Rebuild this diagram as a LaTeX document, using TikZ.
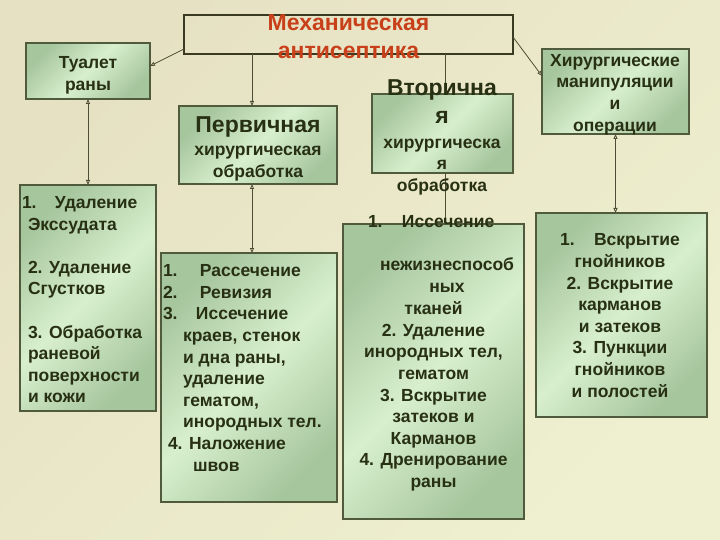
\documentclass[tikz,border=0pt]{standalone}
\usepackage{fontspec}
\setmainfont{Liberation Sans}
\usetikzlibrary{arrows.meta}
\definecolor{bgA}{HTML}{E6E1C3}
\definecolor{bgB}{HTML}{EEF0CF}
\definecolor{gDark}{HTML}{A6C69E}
\definecolor{gLight}{HTML}{D8EFCD}
\definecolor{boxLine}{HTML}{505A3C}
\definecolor{titleLine}{HTML}{3A3A22}
\definecolor{txt}{HTML}{283014}
\definecolor{titleRed}{HTML}{C8401A}
\definecolor{conn}{HTML}{4E4E36}
\newcommand{\bigln}{\fontsize{23}{28}\selectfont}
\begin{document}
\begin{tikzpicture}[x=1pt,y=-1pt,
  gbox/.style={draw=boxLine, line width=1.2pt, top color=gDark, bottom color=gDark, middle color=gLight, shading angle=45, inner sep=0pt, outer sep=0pt},
  tbox/.style={draw=titleLine, line width=1.5pt, inner sep=0pt, outer sep=0pt},
  lbl/.style={text=txt, font=\fontsize{17.5}{21.6}\selectfont\bfseries, inner sep=0pt, outer sep=0pt},
  ttl/.style={text=titleRed, font=\fontsize{23}{28}\selectfont\bfseries, inner sep=0pt, align=center},
  link/.style={draw=conn, line width=0.8pt},
  arr/.style={link, -{Triangle[open, length=5pt, width=4pt]}},
  darr/.style={link, {Triangle[open, length=5pt, width=4pt]}-{Triangle[open, length=5pt, width=4pt]}}
]
% background
\shade[top color=bgA, bottom color=bgB, shading angle=45] (0,0) rectangle (720,540);
\useasboundingbox (0,0) rectangle (720,540);

% boxes
\node[tbox, minimum width=329pt, minimum height=39pt] (title) at (348.5,34.5) {};
\node[gbox, minimum width=124pt, minimum height=56pt] (tual) at (88,71) {};
\node[gbox, minimum width=158pt, minimum height=78pt] (perv) at (258,145) {};
\node[gbox, minimum width=141pt, minimum height=79pt] (vtor) at (442.5,133.5) {};
\node[gbox, minimum width=147pt, minimum height=85pt] (hir) at (615.5,91.5) {};
\node[gbox, minimum width=136pt, minimum height=226pt] (udal) at (88,298) {};
\node[gbox, minimum width=176pt, minimum height=249pt] (rass) at (249,377.5) {};
\node[gbox, minimum width=181pt, minimum height=295pt] (iss) at (433.5,371.5) {};
\node[gbox, minimum width=171pt, minimum height=204pt] (vskr) at (621.5,315) {};

% connectors
\coordinate (p1) at ([xshift=-6pt]perv.north);
\coordinate (v1) at ([xshift=2.5pt]vtor.north);
\draw[arr] ([yshift=-14.5pt]title.west) -- ([yshift=5pt]tual.east);
\draw[arr] (title.south -| p1) -- (p1);
\draw[link] (title.south -| v1) -- (v1);
\draw[link] (vtor.south -| v1) -- (iss.north -| v1);
\draw[arr] ([yshift=-2.5pt]title.east) -- ([yshift=15.5pt]hir.west);
\draw[darr] (tual.south) -- (udal.north);
\draw[darr] (perv.south -| p1) -- (rass.north -| p1);
\draw[darr] (hir.south) -- (hir.south |- vskr.north);

% texts
\node[ttl] (ttitle) at (348.5,37) {Механическая\\антисептика};
\node[lbl, align=center] (ttual) at (88,75) {Туалет\\раны};
\node[lbl, align=center] (tperv) at (258,148.6) {{\bigln Первичная}\\[2pt]хирургическая\\обработка};
\node[lbl, align=center] (tvtor) at (442,137.6) {{\bigln Вторична}\\[6.4pt]{\bigln я}\\[3pt]хирургическа\\я\\обработка};
\node[lbl, align=center] (thir) at (615,94.5) {Хирургические\\манипуляции\\и\\операции};
\node[lbl, align=left, anchor=west] (tudal) at (22,299.7) {1.\hspace{18.4pt}Удаление\\
\hspace*{6pt}Экссудата\\ \mbox{}\\
\hspace*{6pt}2. Удаление\\
\hspace*{6pt}Сгустков\\ \mbox{}\\
\hspace*{6pt}3. Обработка\\
\hspace*{6pt}раневой\\
\hspace*{6pt}поверхности\\
\hspace*{6pt}и кожи};
\node[lbl, align=left, anchor=west] (trass) at (163,368) {\makebox[37pt][l]{1.}Рассечение\\
\makebox[37pt][l]{2.}Ревизия\\
\makebox[33pt][l]{3.}Иссечение\\
\hspace*{20pt}краев, стенок\\
\hspace*{20pt}и дна раны,\\
\hspace*{20pt}удаление\\
\hspace*{20pt}гематом,\\
\hspace*{20pt}инородных тел.\\
\hspace*{5pt}4. Наложение\\
\hspace*{30pt}швов};
\node[lbl, anchor=west] (tiss1) at (368,222) {1.\hspace{19.4pt}Иссечение};
\node[lbl, align=center] (tiss2) at (447,275) {нежизнеспособ\\ных};
\node[lbl, align=center] (tiss3) at (433.5,396.5) {тканей\\2. Удаление\\инородных тел,\\гематом\\3. Вскрытие\\затеков и\\Карманов\\4. Дренирование\\раны};
\node[lbl, align=center] (tvskr) at (620,315.5) {1.\hspace{19.4pt}Вскрытие\\гнойников\\2. Вскрытие\\карманов\\и затеков\\3. Пункции\\гнойников\\и полостей};
\end{tikzpicture}
\end{document}
